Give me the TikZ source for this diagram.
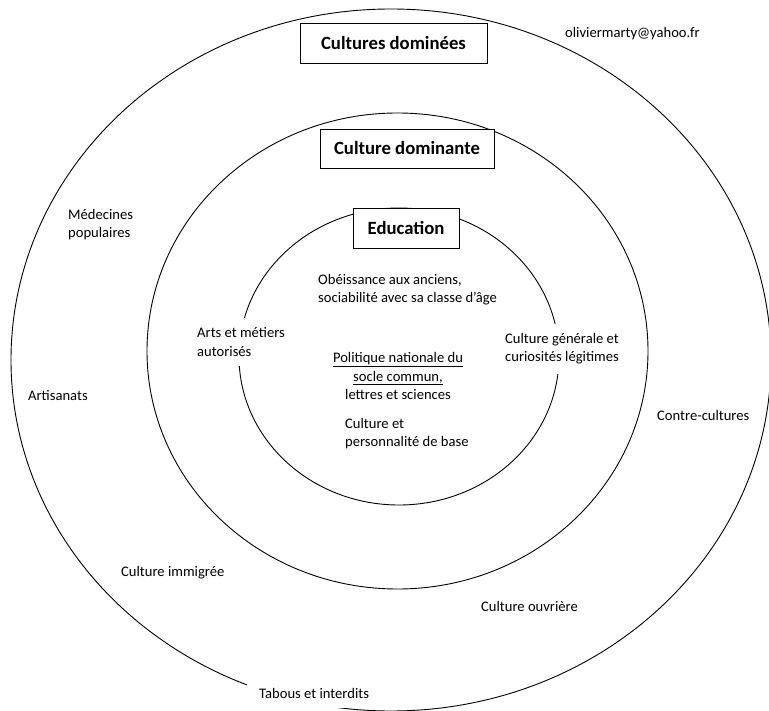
\documentclass[tikz,border=0pt]{standalone}
\usepackage{fontspec}
\setmainfont{Carlito}
\begin{document}
\begin{tikzpicture}[x=1pt,y=-1pt,
  ring/.style={draw=black, line width=0.9pt},
  titlebox/.style={draw=black, line width=0.8pt, fill=white, inner sep=0pt,
    font=\fontsize{18.7}{22}\selectfont\bfseries},
  lbl/.style={font=\fontsize{14.6}{18.2}\selectfont, inner sep=0pt, anchor=west, align=left},
  lblw/.style={lbl, fill=white, inner xsep=10pt, inner ysep=9.5pt}]
\useasboundingbox (0,0) rectangle (769,711);
% rings
\draw[ring] (391,360) ellipse [x radius=380pt, y radius=351pt];
\draw[ring] (397.5,351) ellipse [x radius=250.5pt, y radius=238pt];
\draw[ring] (399,356.5) ellipse [x radius=160pt, y radius=148.5pt];
% title boxes
\node[titlebox, minimum width=187pt, minimum height=40pt] (dominees) at (393.5,43) {Cultures dominées};
\node[titlebox, minimum width=174pt, minimum height=39pt] (dominante) at (407,148.5) {Culture dominante};
\node[titlebox, minimum width=106pt, minimum height=40pt] (education) at (406,228) {Education};
% labels
\node[lbl] (mail) at (565,34) {oliviermarty@yahoo.fr};
\node[lbl] (medecines) at (68,225) {Médecines\\populaires};
\node[lbl] (artisanats) at (28,396) {Artisanats};
\node[lblw] (arts) at (187,342) {Arts et métiers\\autorisés};
\node[lbl] (obeissance) at (318,290) {Obéissance aux anciens,\\sociabilité avec sa classe d’âge};
\node[lbl, anchor=center, align=center] (politique) at (398,376) {\underline{Politique nationale du}\\\underline{socle commun,}\\lettres et sciences};
\node[lbl] (personnalite) at (345,434) {Culture et\\personnalité de base};
\node[lblw] (generale) at (495,349) {Culture générale et\\curiosités légitimes};
\node[lbl] (contre) at (657,415) {Contre-cultures};
\node[lbl] (immigree) at (121,573) {Culture immigrée};
\node[lbl] (ouvriere) at (481,606) {Culture ouvrière};
\node[lblw, inner xsep=12pt] (tabous) at (247,693) {Tabous et interdits};
\end{tikzpicture}
\end{document}
